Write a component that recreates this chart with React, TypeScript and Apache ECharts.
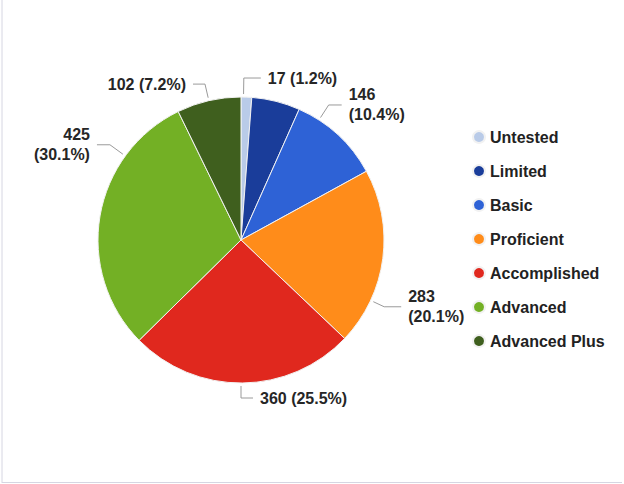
import React, { useEffect, useRef } from "react";
import * as echarts from "echarts";

const categories = ["Untested", "Limited", "Basic", "Proficient", "Accomplished", "Advanced", "Advanced Plus"];
const values = [17, 77, 146, 283, 360, 425, 102];
const colors = ["#b9cbe8", "#1a3d9a", "#2e62d6", "#ff8c1a", "#e0281e", "#73b025", "#3f5f1e"];

// label geometry (styling): anchor angle from top (deg, clockwise), radial len, horizontal len, side
const labelGeo: Record<number, { a: number; len: number; len2: number; side: number; twoLine: boolean }> = {
  0: { a: 1, len: 16, len2: 17, side: 1, twoLine: false },
  2: { a: 33, len: 15, len2: 13, side: 1, twoLine: true },
  3: { a: 115, len: 12, len2: 17, side: 1, twoLine: true },
  4: { a: 180, len: 12, len2: 12, side: 1, twoLine: false },
  5: { a: 306, len: 16, len2: 13, side: -1, twoLine: true },
  6: { a: 347, len: 14, len2: 12, side: -1, twoLine: false },
};

const CX = 241;
const CY = 240;
const R = 143;

export default function App() {
  const ref = useRef<HTMLDivElement>(null);
  useEffect(() => {
    if (!ref.current) return;
    const chart = echarts.init(ref.current, undefined, { renderer: "svg" });
    const pt = (a: number, r: number) => {
      const rad = (a * Math.PI) / 180;
      return [CX + r * Math.sin(rad), CY - r * Math.cos(rad)];
    };
    chart.setOption({
      animation: false,
      backgroundColor: "#ffffff",
      textStyle: { fontFamily: "Liberation Sans, Arial, sans-serif" },
      legend: {
        orient: "vertical",
        left: 467,
        top: 124,
        icon: "circle",
        itemWidth: 12,
        itemHeight: 12,
        itemGap: 18,
        data: categories,
        textStyle: { fontSize: 16, fontWeight: "bold", color: "#222", lineHeight: 16, fontFamily: "Liberation Sans, Arial, sans-serif" },
      },
      graphic: [
        { type: "line", shape: { x1: 2, y1: 0, x2: 2, y2: 483 }, style: { stroke: "#d6d6e2", lineWidth: 1 } },
        { type: "line", shape: { x1: 2, y1: 482.5, x2: 622, y2: 482.5 }, style: { stroke: "#d6d6e2", lineWidth: 1 } },
      ],
      series: [
        {
          type: "pie",
          center: [CX, CY],
          radius: R,
          startAngle: 90,
          clockwise: true,
          percentPrecision: 1,
          avoidLabelOverlap: false,
          itemStyle: { borderColor: "#f2f2f2", borderWidth: 1 },
          label: {
            show: true,
            position: "outside",
            fontSize: 16,
            fontWeight: "bold",
            color: "#262626",
            lineHeight: 20,
            fontFamily: "Liberation Sans, Arial, sans-serif",
            formatter: (p: any) => {
              const g = labelGeo[p.dataIndex];
              const pct = Number(p.percent).toFixed(1);
              return g && g.twoLine ? `${p.value}\n(${pct}%)` : `${p.value} (${pct}%)`;
            },
          },
          labelLine: { show: true, lineStyle: { color: "#9a9a9a", width: 1 } },
          labelLayout: (params: any) => {
            const g = labelGeo[params.dataIndex];
            if (!g) return {};
            const p0 = pt(g.a, R + 3);
            const p1 = pt(g.a, R + 3 + g.len);
            const p2 = [p1[0] + g.side * g.len2, p1[1]];
            return {
              x: p2[0] + g.side * 7,
              y: p2[1],
              align: g.side > 0 ? "left" : "right",
              verticalAlign: "middle",
              labelLinePoints: [p0, p1, p2],
            };
          },
          data: categories.map((name, i) => ({
            name,
            value: values[i],
            itemStyle: { color: colors[i] },
            ...(labelGeo[i] ? {} : { label: { show: false }, labelLine: { show: false } }),
          })),
        },
      ],
    });
    return () => chart.dispose();
  }, []);
  return <div ref={ref} style={{ position: "fixed", left: 0, top: 0, width: 624, height: 484 }} />;
}
